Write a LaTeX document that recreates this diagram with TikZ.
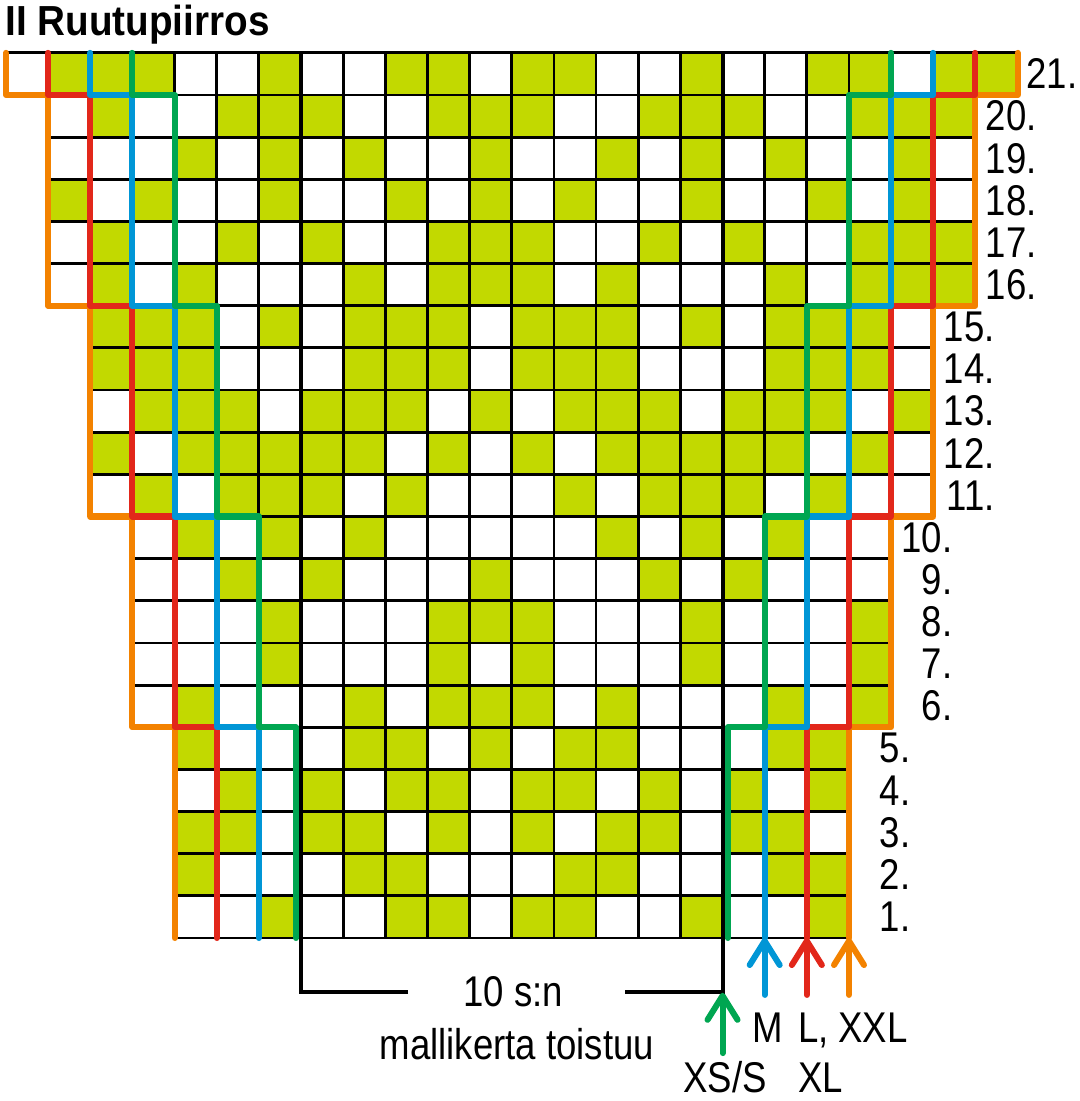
\documentclass[tikz,border=0pt]{standalone}
\usepackage{fontspec}
\setmainfont{Liberation Sans}[FakeStretch=0.85]
\newfontfamily\titlefont{Liberation Sans}[FakeStretch=0.92]
\usetikzlibrary{arrows.meta}
\definecolor{stitchgreen}{RGB}{194,217,0}
\definecolor{sizeorange}{RGB}{243,130,0}
\definecolor{sizered}{RGB}{226,39,26}
\definecolor{sizeblue}{RGB}{0,150,214}
\definecolor{sizegreen}{RGB}{0,166,81}
\tikzstyle{stitch}=[fill=stitchgreen]
\tikzstyle{gridline}=[draw=black, line width=2pt, step=1]
\tikzstyle{repeatline}=[draw=black, line width=2.9pt]
\tikzstyle{sizeline}=[line width=4.3pt, line cap=round, line join=round]
\tikzstyle{sizearrow}=[sizeline, -{Straight Barb[length=6mm, width=7.5mm, round]}]
\tikzstyle{chartfont}=[font=\fontsize{30.6}{31}\selectfont]
\tikzstyle{rowlabel}=[chartfont, anchor=east, inner sep=0pt]
\tikzstyle{sizelabel}=[chartfont, inner sep=0pt]

\begin{document}
\begin{tikzpicture}[x=1.054cm, y=1.054cm]
        \useasboundingbox (-0.142,-3.867) rectangle (25.48,22.254);
        % green stitches, row by row
        \foreach \r/\cols in {
            21/{1,2,3,6,9,10,12,13,16,19,20,22,23},
            20/{2,5,6,7,10,11,12,15,16,17,20,21,22},
            19/{4,6,8,11,14,16,18,21},
            18/{1,3,6,9,11,13,16,19,21},
            17/{2,5,7,10,11,12,15,17,20,21,22},
            16/{2,4,8,10,11,12,14,18,20,21,22},
            15/{2,3,4,6,8,9,10,12,13,14,16,18,19,20},
            14/{2,3,4,8,9,10,12,13,14,18,19,20},
            13/{3,4,5,7,8,9,11,13,14,15,17,18,19,21},
            12/{2,4,5,6,7,8,10,12,14,15,16,17,18,20},
            11/{3,5,6,7,9,13,15,16,17,19},
            10/{4,6,8,14,16,18},
            9/{5,7,11,15,17},
            8/{6,10,11,12,16,20},
            7/{6,10,12,16,20},
            6/{4,8,10,11,12,14,18,20},
            5/{4,8,9,11,13,14,18,19},
            4/{5,7,9,10,12,13,15,17,19},
            3/{4,5,7,8,10,12,14,15,17,18},
            2/{4,8,9,13,14,18,19},
            1/{6,9,10,12,13,16,19}}
        {
            \foreach \c in \cols
                \fill[stitch] (\c,\r-1) rectangle +(1,1);
        }
        % grid
        \draw[gridline] (0,20) grid (24,21);
        \draw[gridline] (1,15) grid (23,20);
        \draw[gridline] (2,10) grid (22,15);
        \draw[gridline] (3,5) grid (21,10);
        \draw[gridline] (4,0) grid (20,5);
        % pattern repeat
        \node[sizelabel, anchor=base] (count) at (12.03,-1.63) {10 s:n};
        \node[sizelabel, anchor=base] (repeat) at (12.12,-2.89) {mallikerta toistuu};
        \coordinate (repL) at (9.54,-1.28);
        \coordinate (repR) at (14.69,-1.28);
        \draw[repeatline] (repL) -- (7,-1.28) -- (7,21);
        \draw[repeatline] (repR) -- (17,-1.28) -- (17,21);
        % size lines, left side
        \draw[sizeline, sizeorange] (0,21) -- (0,20) -- (1,20) -- (1,15) -- (2,15) -- (2,10) -- (3,10) -- (3,5) -- (4,5) -- (4,0);
        \draw[sizeline, sizered] (1,21) -- (1,20) -- (2,20) -- (2,15) -- (3,15) -- (3,10) -- (4,10) -- (4,5) -- (5,5) -- (5,0);
        \draw[sizeline, sizeblue] (2,21) -- (2,20) -- (3,20) -- (3,15) -- (4,15) -- (4,10) -- (5,10) -- (5,5) -- (6,5) -- (6,0);
        \draw[sizeline, sizegreen] (3,21) -- (3,20) -- (4,20) -- (4,15) -- (5,15) -- (5,10) -- (6,10) -- (6,5) -- (6.88,5) -- (6.88,0);
        % size lines, right side
        \draw[sizeline, sizeorange] (24,21) -- (24,20) -- (23,20) -- (23,15) -- (22,15) -- (22,10) -- (21,10) -- (21,5) -- (20,5) -- (20,0);
        \draw[sizeline, sizered] (23,21) -- (23,20) -- (22,20) -- (22,15) -- (21,15) -- (21,10) -- (20,10) -- (20,5) -- (19,5) -- (19,0);
        \draw[sizeline, sizeblue] (22,21) -- (22,20) -- (21,20) -- (21,15) -- (20,15) -- (20,10) -- (19,10) -- (19,5) -- (18,5) -- (18,0);
        \draw[sizeline, sizegreen] (21,21) -- (21,20) -- (20,20) -- (20,15) -- (19,15) -- (19,10) -- (18,10) -- (18,5) -- (17.12,5) -- (17.12,0);
        % size arrows
        \foreach \x/\col/\n in {18/sizeblue/M, 19/sizered/L, 20/sizeorange/XXL} {
            \coordinate (tail\n) at (\x,-1.35);
            \coordinate (tip\n) at (\x,0);
            \draw[sizearrow, \col] (tail\n) -- (tip\n);
        }
        \coordinate (tailXS) at (17,-2.73);
        \coordinate (tipXS) at (17,-1.3);
        \draw[sizearrow, sizegreen] (tailXS) -- (tipXS);
        \node[sizelabel, anchor=base] (sizeM) at (18.08,-2.47) {M};
        \node[sizelabel, anchor=base west] (sizeL) at (18.79,-2.47) {L,};
        \node[sizelabel, anchor=base west] (sizeXXL) at (19.74,-2.47) {XXL};
        \node[sizelabel, anchor=base] (sizeXS) at (17.06,-3.66) {XS/S};
        \node[sizelabel, anchor=base west] (sizeXL) at (18.79,-3.66) {XL};
        % row numbers
        \foreach \r in {1,...,21} {
            \pgfmathsetmacro\xr{\r==21 ? 25.42 : 21.46+int((\r-1)/5)}
            \node[rowlabel] (row\r) at (\xr,\r-0.5) {\r.};
        }
        % title
        \node[anchor=base west, inner sep=0pt, font=\titlefont\bfseries\fontsize{29.9}{30}\selectfont] (title) at (-0.02,21.42) {II Ruutupiirros};
\end{tikzpicture}
\end{document}
